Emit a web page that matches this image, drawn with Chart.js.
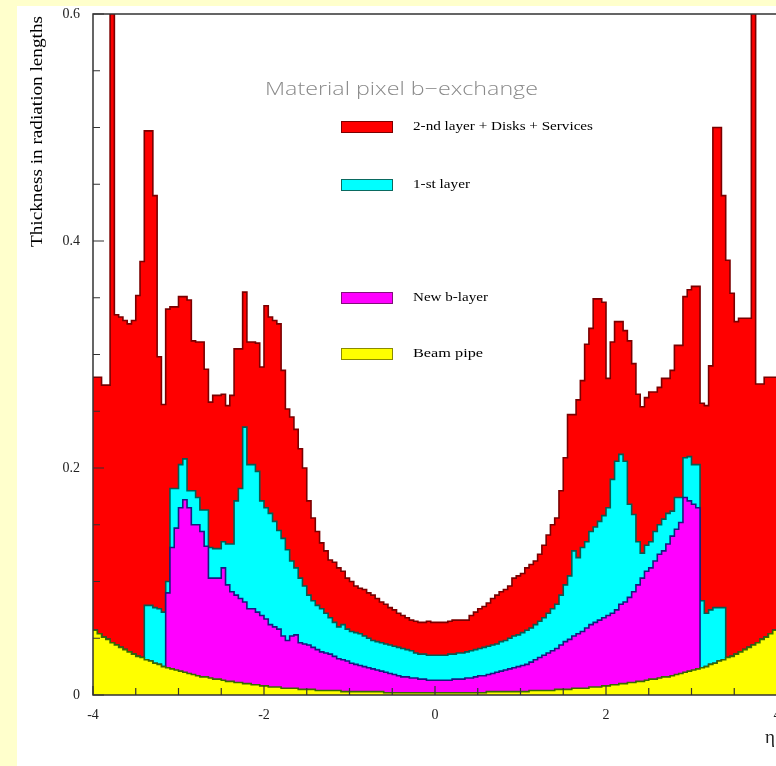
<!DOCTYPE html>
<html>
<head>
<meta charset="utf-8">
<title>Material pixel b-exchange</title>
<script src="https://cdn.jsdelivr.net/npm/chart.js@4.4.0/dist/chart.umd.min.js"></script>
<style>
    html, body { margin: 0; padding: 0; background: #fff; overflow: hidden; }
</style>
</head>
<body>
<canvas id="chart" width="780" height="766"></canvas>
<script>
// histogram binning in eta
const etaMin = -4;
const etaMax = 4;
const binWidth = 0.05;

// heights as drawn: each histogram contains the ones below it (160 bins)
const beamPipe = [
    0.057,0.054,0.051,0.049,0.046,0.044,0.042,0.040,0.038,0.036,
    0.034,0.033,0.031,0.030,0.028,0.027,0.025,0.024,0.023,0.022,
    0.021,0.020,0.019,0.018,0.017,0.016,0.016,0.015,0.014,0.014,
    0.013,0.012,0.012,0.011,0.011,0.010,0.010,0.009,0.009,0.008,
    0.008,0.007,0.007,0.007,0.006,0.006,0.006,0.006,0.005,0.005,
    0.005,0.005,0.004,0.004,0.004,0.004,0.004,0.004,0.003,0.003,
    0.003,0.003,0.003,0.003,0.003,0.003,0.003,0.003,0.002,0.002,
    0.002,0.002,0.002,0.002,0.002,0.002,0.002,0.002,0.002,0.002,
    0.002,0.002,0.002,0.002,0.002,0.002,0.002,0.002,0.002,0.002,
    0.002,0.002,0.003,0.003,0.003,0.003,0.003,0.003,0.003,0.003,
    0.003,0.003,0.004,0.004,0.004,0.004,0.004,0.004,0.005,0.005,
    0.005,0.005,0.006,0.006,0.006,0.006,0.007,0.007,0.007,0.008,
    0.008,0.009,0.009,0.010,0.010,0.011,0.011,0.012,0.012,0.013,
    0.014,0.014,0.015,0.016,0.016,0.017,0.018,0.019,0.020,0.021,
    0.022,0.023,0.024,0.025,0.027,0.028,0.030,0.031,0.033,0.034,
    0.036,0.038,0.040,0.042,0.044,0.046,0.049,0.051,0.054,0.057
];
const newBLayer = [
    0.057,0.054,0.051,0.049,0.046,0.044,0.042,0.040,0.038,0.036,
    0.034,0.033,0.031,0.030,0.028,0.027,0.025,0.090,0.130,0.147,
    0.165,0.172,0.165,0.150,0.150,0.144,0.131,0.103,0.103,0.103,
    0.112,0.097,0.091,0.088,0.085,0.082,0.076,0.076,0.073,0.070,
    0.067,0.062,0.060,0.058,0.052,0.048,0.052,0.053,0.046,0.045,
    0.044,0.042,0.040,0.038,0.037,0.036,0.034,0.032,0.031,0.030,
    0.028,0.027,0.026,0.025,0.024,0.023,0.022,0.021,0.020,0.019,
    0.018,0.017,0.016,0.016,0.015,0.015,0.014,0.014,0.013,0.013,
    0.013,0.013,0.013,0.013,0.014,0.014,0.014,0.015,0.015,0.016,
    0.017,0.017,0.018,0.019,0.020,0.021,0.022,0.023,0.024,0.025,
    0.026,0.027,0.029,0.031,0.033,0.035,0.037,0.039,0.041,0.044,
    0.047,0.049,0.052,0.054,0.056,0.059,0.062,0.064,0.066,0.068,
    0.070,0.072,0.075,0.080,0.082,0.086,0.091,0.097,0.103,0.109,
    0.112,0.118,0.124,0.127,0.133,0.140,0.146,0.152,0.174,0.171,
    0.168,0.165,0.024,0.025,0.027,0.028,0.030,0.031,0.033,0.034,
    0.036,0.038,0.040,0.042,0.044,0.046,0.049,0.051,0.054,0.057
];
const firstLayer = [
    0.057,0.054,0.051,0.049,0.046,0.044,0.042,0.040,0.038,0.036,
    0.034,0.033,0.079,0.079,0.077,0.076,0.073,0.100,0.182,0.182,
    0.203,0.208,0.180,0.180,0.174,0.163,0.163,0.130,0.129,0.129,
    0.135,0.133,0.133,0.171,0.182,0.236,0.203,0.203,0.197,0.171,
    0.165,0.160,0.153,0.145,0.138,0.128,0.118,0.112,0.103,0.096,
    0.088,0.083,0.079,0.076,0.072,0.068,0.064,0.060,0.062,0.058,
    0.056,0.055,0.054,0.052,0.050,0.048,0.047,0.046,0.045,0.044,
    0.043,0.042,0.041,0.040,0.039,0.037,0.036,0.036,0.035,0.035,
    0.035,0.035,0.035,0.036,0.036,0.037,0.037,0.038,0.039,0.040,
    0.041,0.042,0.043,0.044,0.045,0.047,0.048,0.050,0.052,0.053,
    0.055,0.057,0.059,0.062,0.065,0.068,0.072,0.076,0.080,0.088,
    0.097,0.105,0.127,0.121,0.130,0.135,0.144,0.148,0.153,0.158,
    0.165,0.190,0.206,0.212,0.206,0.168,0.159,0.135,0.125,0.132,
    0.135,0.144,0.150,0.155,0.160,0.162,0.174,0.174,0.209,0.210,
    0.203,0.203,0.083,0.072,0.075,0.077,0.077,0.077,0.033,0.034,
    0.036,0.038,0.040,0.042,0.044,0.046,0.049,0.051,0.054,0.057
];
const secondLayer = [
    0.280,0.280,0.273,0.273,0.620,0.335,0.333,0.330,0.327,0.330,
    0.352,0.382,0.497,0.497,0.440,0.298,0.256,0.340,0.342,0.342,
    0.351,0.351,0.348,0.312,0.311,0.311,0.287,0.258,0.264,0.264,
    0.265,0.255,0.264,0.305,0.305,0.355,0.311,0.311,0.310,0.289,
    0.343,0.333,0.330,0.327,0.286,0.252,0.245,0.234,0.217,0.200,
    0.171,0.156,0.144,0.134,0.127,0.119,0.117,0.112,0.109,0.103,
    0.100,0.096,0.094,0.093,0.090,0.088,0.085,0.082,0.080,0.077,
    0.075,0.072,0.070,0.068,0.066,0.065,0.064,0.064,0.065,0.064,
    0.064,0.064,0.064,0.065,0.066,0.066,0.066,0.066,0.070,0.073,
    0.076,0.078,0.081,0.085,0.088,0.091,0.093,0.096,0.103,0.105,
    0.107,0.112,0.115,0.118,0.124,0.132,0.141,0.150,0.156,0.180,
    0.209,0.247,0.247,0.260,0.277,0.309,0.323,0.349,0.349,0.346,
    0.279,0.311,0.329,0.329,0.321,0.312,0.292,0.265,0.254,0.262,
    0.267,0.267,0.271,0.279,0.279,0.286,0.308,0.308,0.351,0.357,
    0.360,0.360,0.257,0.255,0.290,0.500,0.500,0.440,0.383,0.354,
    0.329,0.332,0.332,0.332,0.620,0.274,0.274,0.280,0.280,0.280
];

const seriesLabels = ['2-nd layer + Disks + Services', '1-st layer', 'New b-layer', 'Beam pipe'];
const xTickValues = [-4, -2, 0, 2, 4];
const xTickLabels = ['-4', '-2', '0', '2', '4'];
const yTickValues = [0, 0.2, 0.4, 0.6];
const yTickLabels = ['0', '0.2', '0.4', '0.6'];
const xMinorStep = 0.5;
const yMinorStep = 0.05;

const serif = '"Liberation Serif", "Times New Roman", serif';

// points at the left edge of every bin, plus the right edge of the last one
function histPoints(values) {
    const pts = values.map((v, i) => ({ x: etaMin + i * binWidth, y: v }));
    pts.push({ x: etaMax, y: values[values.length - 1] });
    return pts;
}

function histDataset(label, values, fill, line) {
    return {
        label: label,
        data: histPoints(values),
        backgroundColor: fill,
        borderColor: line,
        borderWidth: 1.6,
        fill: 'origin',
        stepped: 'before',
        pointRadius: 0,
        tension: 0
    };
}

// draw text squeezed/stretched to a width measured on the reference
function fitText(ctx, text, x, y, width, font, color) {
    ctx.save();
    ctx.font = font;
    ctx.fillStyle = color;
    ctx.textBaseline = 'middle';
    ctx.textAlign = 'left';
    const w = ctx.measureText(text).width;
    ctx.translate(x, y);
    ctx.scale(width / w, 1);
    ctx.fillText(text, 0, 0);
    ctx.restore();
}

const decorPlugin = {
    id: 'decor',
    beforeDraw(chart) {
        const ctx = chart.ctx;
        ctx.save();
        ctx.fillStyle = '#ffffff';
        ctx.fillRect(0, 0, chart.width, chart.height);
        ctx.fillStyle = '#ffffcc';
        ctx.fillRect(0, 0, 17, chart.height);
        ctx.fillRect(0, 0, chart.width, 6);
        ctx.restore();
    },
    afterDatasetsDraw(chart) {
        const ctx = chart.ctx;
        const a = chart.chartArea;
        const xs = chart.scales.x;
        const ys = chart.scales.y;
        ctx.save();

        // frame
        ctx.strokeStyle = '#333';
        ctx.lineWidth = 1.5;
        ctx.beginPath();
        ctx.moveTo(a.right, a.top);
        ctx.lineTo(a.left, a.top);
        ctx.lineTo(a.left, a.bottom);
        ctx.lineTo(a.right, a.bottom);
        ctx.stroke();

        // inward ticks
        ctx.lineWidth = 1.2;
        ctx.beginPath();
        for (let v = 0; v <= 0.6 + 1e-9; v += yMinorStep) {
            const py = ys.getPixelForValue(v);
            const major = Math.abs(v / 0.2 - Math.round(v / 0.2)) < 1e-6;
            ctx.moveTo(a.left, py);
            ctx.lineTo(a.left + (major ? 11 : 7), py);
        }
        for (let v = etaMin; v <= etaMax + 1e-9; v += xMinorStep) {
            const px = xs.getPixelForValue(v);
            const major = Math.abs(v / 2 - Math.round(v / 2)) < 1e-6;
            ctx.moveTo(px, a.bottom);
            ctx.lineTo(px, a.bottom - (major ? 9 : 7));
        }
        ctx.stroke();

        // title
        fitText(ctx, 'Material pixel b\u2212exchange', 265, 90, 273,
            '300 19px "Open Sans", "DejaVu Sans", sans-serif', '#8a8a8a');

        // legend
        const fills = ['#ff0000', '#00ffff', '#ff00ff', '#ffff00'];
        const lines = ['#7a0000', '#0a6a60', '#80107a', '#8a8a00'];
        const rowY = [127, 185, 298, 354];
        const textW = [180, 57, 75, 70];
        seriesLabels.forEach((txt, i) => {
            ctx.fillStyle = fills[i];
            ctx.fillRect(341, rowY[i] - 6, 52, 12);
            ctx.strokeStyle = lines[i];
            ctx.lineWidth = 1;
            ctx.strokeRect(341.5, rowY[i] - 5.5, 51, 11);
            fitText(ctx, txt, 413, rowY[i], textW[i], '13px ' + serif, '#000');
        });

        // axis titles
        ctx.save();
        ctx.translate(38, 132);
        ctx.rotate(-Math.PI / 2);
        fitText(ctx, 'Thickness in radiation lengths', -115, 0, 231, '17px ' + serif, '#000');
        ctx.restore();
        fitText(ctx, '\u03b7', 765, 738, 10, '18px ' + serif, '#222');

        ctx.restore();
    }
};

new Chart(document.getElementById('chart'), {
    type: 'line',
    data: {
        datasets: [
            histDataset(seriesLabels[3], beamPipe, '#ffff00', '#3a6a00'),
            histDataset(seriesLabels[2], newBLayer, '#ff00ff', '#1a1a80'),
            histDataset(seriesLabels[1], firstLayer, '#00ffff', '#0a5a50'),
            histDataset(seriesLabels[0], secondLayer, '#ff0000', '#7a0000')
        ]
    },
    options: {
        responsive: false,
        animation: false,
        layout: { padding: { top: 14, right: 3, left: 0, bottom: 0 } },
        plugins: {
            legend: { display: false },
            tooltip: { enabled: false }
        },
        scales: {
            x: {
                type: 'linear',
                min: etaMin,
                max: etaMax,
                grid: { display: false },
                border: { display: false },
                afterBuildTicks: s => { s.ticks = xTickValues.map(v => ({ value: v })); },
                afterFit: s => { s.height = 71; s.paddingLeft = 0; s.paddingRight = 0; },
                ticks: {
                    padding: 4,
                    color: '#222',
                    font: { family: serif, size: 14 },
                    callback: (v, i) => xTickLabels[i]
                }
            },
            y: {
                min: 0,
                max: 0.6,
                grid: { display: false },
                border: { display: false },
                afterBuildTicks: s => { s.ticks = yTickValues.map(v => ({ value: v })); },
                afterFit: s => { s.width = 93; s.paddingTop = 0; s.paddingBottom = 0; },
                ticks: {
                    padding: 5,
                    color: '#222',
                    font: { family: serif, size: 14 },
                    callback: (v, i) => yTickLabels[i]
                }
            }
        }
    },
    plugins: [decorPlugin]
});
</script>
</body>
</html>
